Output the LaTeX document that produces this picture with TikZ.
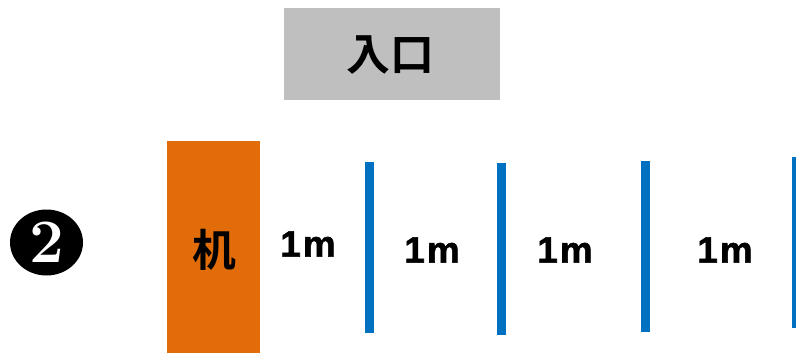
\documentclass[tikz,border=0pt]{standalone}
\usepackage{fontspec}
\newfontfamily\cjk{Noto Sans CJK JP}[BoldFont={* Bold}]
\newfontfamily\lab{Liberation Sans}[BoldFeatures={FakeBold=1.5}, LetterSpace=6]
\definecolor{gray1}{HTML}{BFBFBF}
\definecolor{orng}{HTML}{E36C0A}
\definecolor{blu}{HTML}{0070C0}
\begin{document}
\begin{tikzpicture}[x=1bp,y=-1bp,
  cjktext/.style={font=\cjk\bfseries\fontsize{44}{44}\selectfont, inner sep=0pt},
  meter/.style={font=\lab\bfseries\fontsize{37}{37}\selectfont, inner sep=0pt},
  wall/.style={fill=blu, draw=none}]
\useasboundingbox (0,0) rectangle (796,353);
\fill[white] (0,0) rectangle (796,353);
% entrance
\fill[gray1] (284,8) rectangle (500,100);
\node[cjktext] (entrance) at (390,55) {入口};
% marker
\fill[black] (46.5,242.5) ellipse [x radius=36.5, y radius=33];
\node[font=\bfseries\fontsize{62}{62}\selectfont, text=white, inner sep=0pt] (num) at (46.5,242) {2};
% desk
\fill[orng] (167,141) rectangle (260,353);
\node[cjktext] (desk) at (214,250) {机};
% walls
\fill[wall] (365,162) rectangle (374,333);
\fill[wall] (497,163) rectangle (506,335);
\fill[wall] (641,161) rectangle (650,332);
\fill[wall] (792,157) rectangle (796,328);
% labels
\node[meter] (m1) at (308,244) {1m};
\node[meter] (m2) at (432,250) {1m};
\node[meter] (m3) at (565,250) {1m};
\node[meter] (m4) at (725,250) {1m};
\end{tikzpicture}
\end{document}
